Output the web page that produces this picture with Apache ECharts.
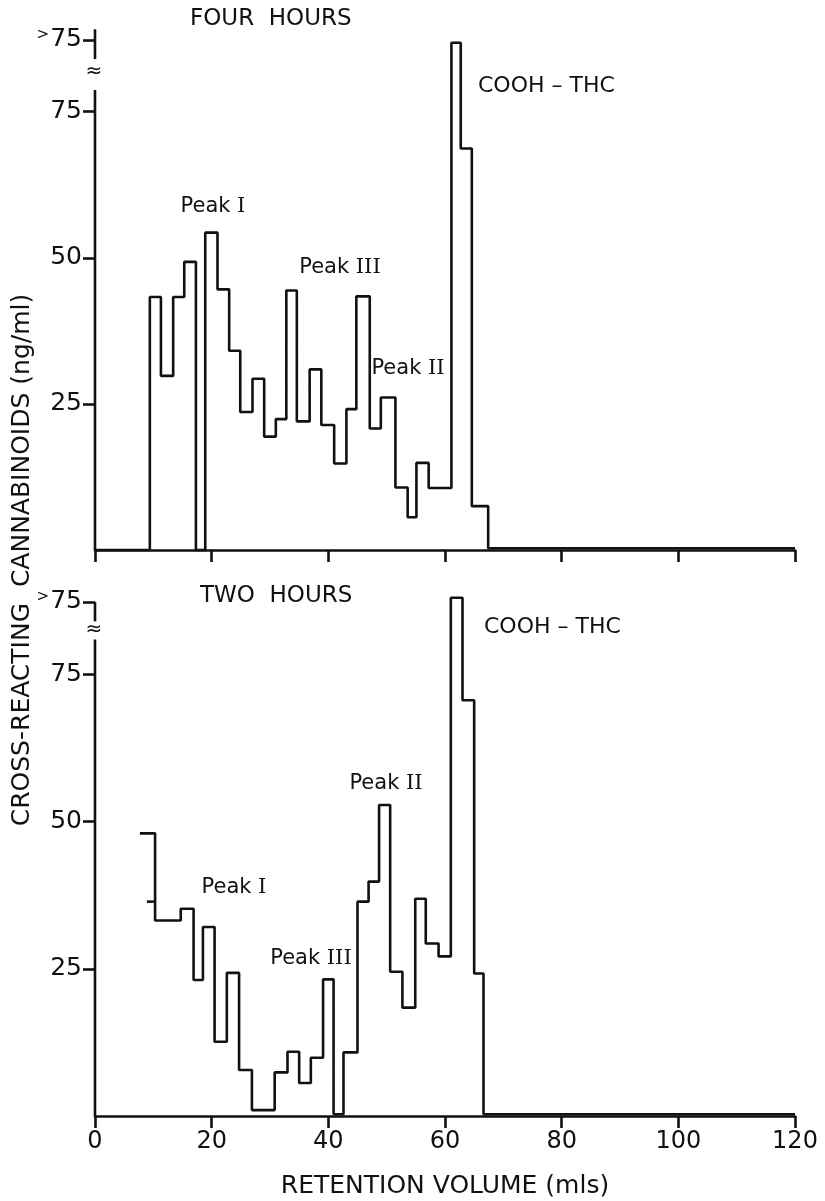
<!DOCTYPE html>
<html><head><meta charset="utf-8">
<script src="https://cdn.jsdelivr.net/npm/echarts@6/dist/echarts.min.js"></script>
<style>html,body{margin:0;padding:0;background:#fff}#c{width:825px;height:1201px}</style>
</head><body><div id="c"></div>
<script>
// ---- data ----
const xTickValues = [0, 20, 40, 60, 80, 100, 120];
const yTickValues = [25, 50, 75, 87.3];          // 87.3 is the ">75" break position
const yTickLabels = ['25', '50', '75', '>75'];

// FOUR HOURS: bin edges (mls) and levels (ng/ml)
const fourEdges  = [0, 9.4, 11.3, 13.4, 15.3, 17.3, 18.9, 21.0, 23.0, 24.9, 27.0, 29.0, 31.0, 32.8, 34.6, 36.8, 38.8, 41.0, 43.1, 44.8, 47.1, 49.0, 51.5, 53.6, 55.1, 57.2, 61.1, 62.7, 64.6, 67.4, 120];
const fourLevels = [0, 43.3, 29.8, 43.3, 49.3, 0, 54.3, 44.6, 34.1, 23.6, 29.3, 19.4, 22.4, 44.4, 22.0, 30.9, 21.4, 14.8, 24.1, 43.4, 20.8, 26.1, 10.7, 5.6, 14.9, 10.6, 86.8, 68.7, 7.5, 0.3];

// TWO HOURS
const twoEdges  = [7.7, 10.3, 14.7, 16.9, 18.5, 20.5, 22.6, 24.7, 26.9, 30.8, 33.0, 35.0, 37.0, 39.1, 40.9, 42.6, 45.0, 46.9, 48.7, 50.6, 52.7, 54.9, 56.7, 58.9, 61.0, 63.0, 65.0, 66.6, 120];
const twoLevels = [48.0, 33.2, 35.2, 23.1, 32.1, 12.6, 24.3, 7.8, 1.0, 7.4, 10.9, 5.6, 9.9, 23.2, 0.3, 10.8, 36.4, 39.8, 52.8, 24.5, 18.4, 36.9, 29.3, 27.1, 88.0, 70.6, 24.2, 0.3];
const twoStubX = [8.9, 10.3];
const twoStubLevel = 36.4;

// broken y-axis segments (value units)
const topAxisSegments = [[0, 78.7], [84, 89.1]];
const botAxisSegments = [[0, 80.9], [84, 87.3]];

// ---- build ----
function stepData(edges, levels) {
  const d = levels.map((v, i) => [edges[i], v]);
  d.push([edges[edges.length - 1], levels[levels.length - 1]]);
  return d;
}
const FONT = 'DejaVu Sans';
const INK = '#111';

function lineSeries(data, gi, extra) {
  return Object.assign({
    type: 'line', xAxisIndex: gi, yAxisIndex: gi, data: data,
    symbol: 'none', silent: true, clip: false,
    lineStyle: { color: INK, width: 2.6 }, z: 5
  }, extra || {});
}
function axisSegSeries(segs, gi) {
  return segs.map(s => lineSeries([[0, s[0]], [0, s[1]]], gi, { lineStyle: { color: INK, width: 2.6 }, z: 4 }));
}

function xAxis(gi, showLabels) {
  return {
    type: 'value', gridIndex: gi, min: 0, max: 120, interval: 20,
    axisLine: { show: true, onZero: true, lineStyle: { color: INK, width: 2.6 } },
    axisTick: { show: true, inside: false, length: 12, lineStyle: { color: INK, width: 2.6 } },
    axisLabel: { show: showLabels, margin: 14, color: INK, fontFamily: FONT, fontSize: 24 },
    splitLine: { show: false },
    name: showLabels ? 'RETENTION VOLUME (mls)' : '',
    nameLocation: 'middle', nameGap: 58,
    nameTextStyle: { color: INK, fontFamily: FONT, fontSize: 25 }
  };
}
function yAxis(gi) {
  return {
    type: 'value', gridIndex: gi, min: 0, max: 90,
    axisLine: { show: false },
    axisTick: { show: true, inside: false, length: 12, customValues: yTickValues, lineStyle: { color: INK, width: 2.6 } },
    axisLabel: {
      show: true, margin: 13, customValues: yTickValues, color: INK, fontFamily: FONT, fontSize: 25,
      formatter: v => {
        const i = yTickValues.indexOf(v);
        if (i < 0) return '';
        const t = yTickLabels[i];
        return t.charAt(0) === '>' ? '{s|>}' + t.slice(1) : t;
      },
      rich: { s: { fontFamily: FONT, fontSize: 15, color: INK, verticalAlign: 'top', padding: [0, 1, 6, 0] } }
    },
    splitLine: { show: false }
  };
}

function txt(x, y, text, size, align, extra) {
  return Object.assign({
    type: 'text', x: x, y: y, silent: true, z: 10,
    style: {
      text: text, fill: INK, font: size + 'px "' + FONT + '"',
      textAlign: align || 'center', textVerticalAlign: 'middle',
      rich: { r: { fontFamily: 'DejaVu Serif', fontSize: size, fill: INK } }
    }
  }, extra || {});
}

const option = {
  backgroundColor: '#fff',
  animation: false,
  grid: [
    { left: 95, right: 30, top: 24, height: 526 },
    { left: 95, right: 30, top: 586, height: 530 }
  ],
  xAxis: [xAxis(0, false), xAxis(1, true)],
  yAxis: [yAxis(0), yAxis(1)],
  series: [
    ...axisSegSeries(topAxisSegments, 0),
    ...axisSegSeries(botAxisSegments, 1),
    lineSeries(stepData(fourEdges, fourLevels), 0, { step: 'end', name: 'FOUR HOURS' }),
    lineSeries(stepData(twoEdges, twoLevels), 1, { step: 'end', name: 'TWO HOURS' }),
    lineSeries(twoStubX.map(x => [x, twoStubLevel]), 1, { name: 'stub' })
  ],
  graphic: [
    txt(190, 19, 'FOUR  HOURS', 23, 'left'),
    txt(200, 596, 'TWO  HOURS', 23, 'left'),
    txt(213, 207, 'Peak {r|I}', 21),
    txt(340, 268, 'Peak {r|III}', 21),
    txt(408, 369, 'Peak {r|II}', 21),
    txt(478, 86, 'COOH – THC', 22, 'left'),
    txt(234, 888, 'Peak {r|I}', 21),
    txt(311, 959, 'Peak {r|III}', 21),
    txt(386, 784, 'Peak {r|II}', 21),
    txt(484, 627, 'COOH – THC', 22, 'left'),
    txt(94, 72, '≈', 20),
    txt(94, 630, '≈', 20),
    txt(22, 560, 'CROSS-REACTING  CANNABINOIDS (ng/ml)', 25, 'center', { rotation: Math.PI / 2 })
  ]
};
const chart = echarts.init(document.getElementById('c'), null, { renderer: 'canvas' });
chart.setOption(option);
</script></body></html>
